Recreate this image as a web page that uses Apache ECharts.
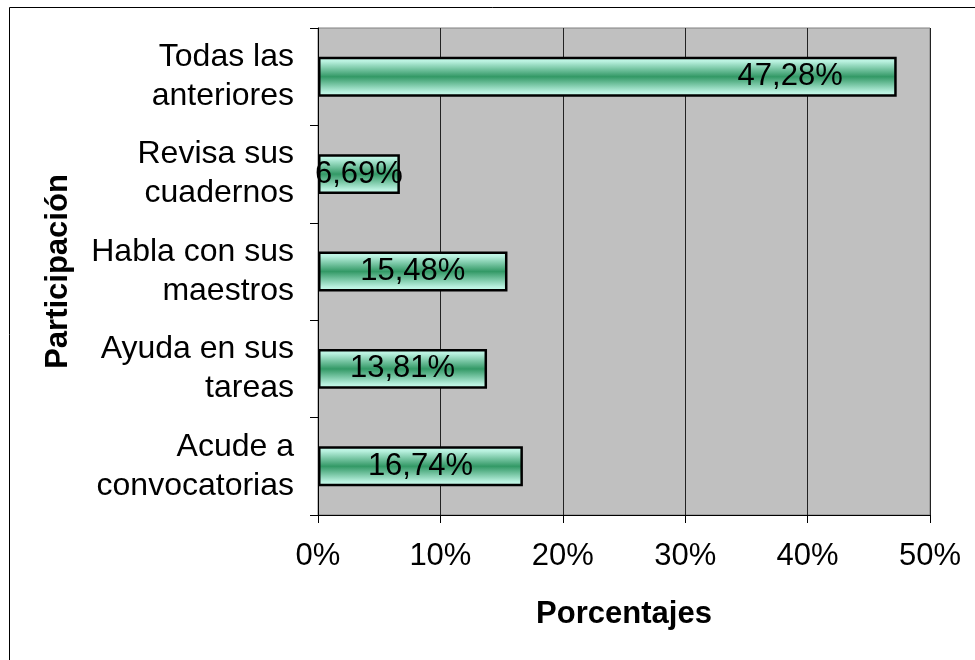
<!DOCTYPE html>
<html>
<head>
<meta charset="utf-8">
<script src="https://cdn.jsdelivr.net/npm/echarts@6/dist/echarts.min.js"></script>
<style>
  html, body { margin: 0; padding: 0; background: #fff; }
  #chart { width: 975px; height: 660px; }
</style>
</head>
<body>
<div id="chart"></div>
<script>
// datos (de abajo hacia arriba, como los pinta el eje de categorias)
var categorias = [
  "Acude a\nconvocatorias",
  "Ayuda en sus\ntareas",
  "Habla con sus\nmaestros",
  "Revisa sus\ncuadernos",
  "Todas las\nanteriores"
];
var porcentajes = [16.74, 13.81, 15.48, 6.69, 47.28];
var ticksX = [0, 10, 20, 30, 40, 50];

var fuente = "Liberation Sans, Arial, sans-serif";

// degradado de la barra: claro en los bordes, verde en el centro
var degradado = new echarts.graphic.LinearGradient(0, 0, 0, 1, [
  { offset: 0, color: "#ccfff0" },
  { offset: 0.12, color: "#b8f0de" },
  { offset: 0.5, color: "#339966" },
  { offset: 0.88, color: "#b8f0de" },
  { offset: 1, color: "#ccfff0" }
]);

var datos = porcentajes.map(function (v) {
  var item = { value: v };
  if (v > 40) {
    // la etiqueta de la barra larga va hacia el final
    item.label = { position: "insideRight", distance: 54 };
  }
  return item;
});

var myChart = echarts.init(document.getElementById("chart"), null, { renderer: "canvas" });

var option = {
  backgroundColor: "#ffffff",
  animation: false,
  textStyle: { fontFamily: fuente },
  grid: {
    left: 318,
    right: 45,
    top: 28,
    bottom: 145,
    show: true,
    backgroundColor: "#c0c0c0",
    borderColor: "#808080",
    borderWidth: 1
  },
  graphic: [
    {
      type: "rect",
      shape: { x: 9.5, y: 7.5, width: 1000, height: 700 },
      style: { fill: null, stroke: "#000", lineWidth: 1 },
      silent: true,
      z: -1
    }
  ],
  xAxis: {
    type: "value",
    min: ticksX[0],
    max: ticksX[ticksX.length - 1],
    interval: 10,
    name: "Porcentajes",
    nameLocation: "middle",
    nameGap: 84,
    nameTextStyle: { fontSize: 31, fontWeight: "bold", color: "#000", fontFamily: fuente },
    axisLine: { show: true, lineStyle: { color: "#000", width: 1 } },
    axisTick: { show: true, inside: false, length: 8, lineStyle: { color: "#000" } },
    axisLabel: {
      fontSize: 31,
      color: "#000",
      margin: 26,
      fontFamily: fuente,
      formatter: function (v) { return v + "%"; }
    },
    splitLine: { show: true, lineStyle: { color: "#222", width: 1 } }
  },
  yAxis: {
    type: "category",
    data: categorias,
    name: "Participación",
    nameLocation: "middle",
    nameGap: 244,
    nameRotate: 90,
    nameTextStyle: { fontSize: 31, fontWeight: "bold", color: "#000", fontFamily: fuente },
    axisLine: { show: true, lineStyle: { color: "#000", width: 1 } },
    axisTick: { show: true, inside: false, length: 8, lineStyle: { color: "#000" } },
    axisLabel: {
      fontSize: 32,
      lineHeight: 39,
      color: "#000",
      margin: 24,
      align: "right",
      fontFamily: fuente
    },
    splitLine: { show: false }
  },
  series: [
    {
      type: "bar",
      data: datos,
      barWidth: "41%",
      itemStyle: {
        color: degradado,
        borderColor: "#000",
        borderWidth: 2.5
      },
      label: {
        show: true,
        position: "inside",
        fontSize: 31,
        color: "#000",
        fontFamily: fuente,
        formatter: function (p) {
          return p.value.toFixed(2).replace(".", ",") + "%";
        }
      }
    }
  ]
};

myChart.setOption(option);
</script>
</body>
</html>
